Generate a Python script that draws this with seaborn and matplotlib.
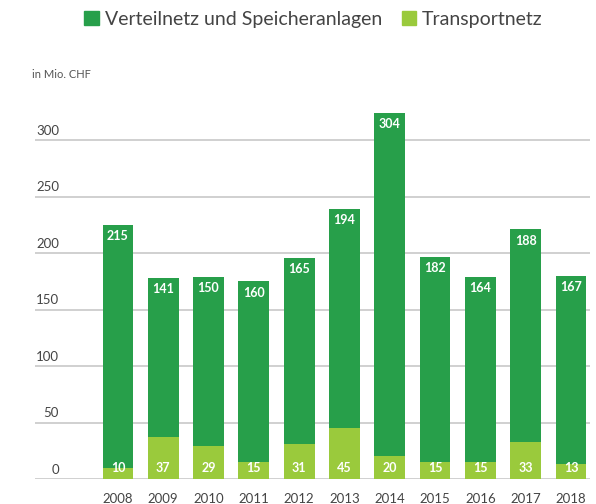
import matplotlib
matplotlib.use("Agg")
import matplotlib.pyplot as plt
import seaborn as sns
import pandas as pd
from matplotlib.patches import Patch

years = ["2008", "2009", "2010", "2011", "2012", "2013", "2014", "2015", "2016", "2017", "2018"]
verteilnetz = [215, 141, 150, 160, 165, 194, 304, 182, 164, 188, 167]
transportnetz = [10, 37, 29, 15, 31, 45, 20, 15, 15, 33, 13]
yticks = [0, 50, 100, 150, 200, 250, 300]

dark = "#279F4A"
light = "#9ACA3C"
txt = "#444444"

sns.set_theme(style="white")
plt.rcParams["font.family"] = ["Lato", "DejaVu Sans"]

df = pd.DataFrame({"year": years, "vert": verteilnetz, "trans": transportnetz})
df["total"] = df["vert"] + df["trans"]

fig = plt.figure(figsize=(5.96, 5.04), dpi=100)
ax = fig.add_axes([35/596, 25/504, 555/596, 384/504])

sns.barplot(data=df, x="year", y="total", color=dark, saturation=1, width=0.68, ax=ax, linewidth=0)
sns.barplot(data=df, x="year", y="trans", color=light, saturation=1, width=0.68, ax=ax, linewidth=0)

ax.set_xlim(-1.83, 10.42)
ax.set_ylim(0, 340)
for v in yticks:
    ax.axhline(v, color="#c8c8c8", lw=1.2, zorder=0)
    ax.text(-1.3, v + 3, str(v), ha="right", va="bottom", fontsize=9.5, color=txt)

for i, row in df.iterrows():
    ax.text(i, row["total"] - 10, str(row["vert"]), ha="center", va="center",
            color="white", fontweight="bold", fontsize=9)
    ax.text(i, 10, str(row["trans"]), ha="center", va="center",
            color="white", fontweight="bold", fontsize=9)

ax.set_yticks([])
ax.set_xlabel("")
ax.set_ylabel("")
ax.tick_params(axis="x", length=0, pad=10, labelsize=9.5, labelcolor=txt)
for s in ax.spines.values():
    s.set_visible(False)

fig.text(32/596, 1 - 75/504, "in Mio. CHF", fontsize=8, color="#555555", va="center")

handles = [Patch(color=dark, label="Verteilnetz und Speicheranlagen"),
           Patch(color=light, label="Transportnetz")]
fig.legend(handles=handles, loc="center", bbox_to_anchor=(0.526, 1 - 19/504), ncol=2,
           frameon=False, fontsize=14, handlelength=0.75, handleheight=0.75,
           handletextpad=0.3, columnspacing=1.0, labelcolor=txt)

fig.savefig("out.png", dpi=100)
